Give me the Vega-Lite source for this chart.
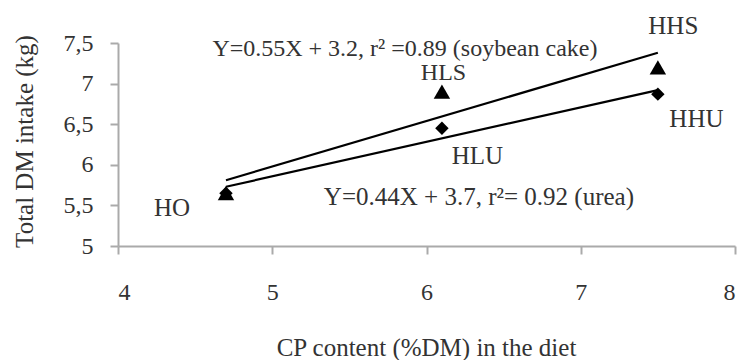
{
  "$schema": "https://vega.github.io/schema/vega-lite/v6.json",
  "autosize": "none",
  "padding": {"left": 118, "top": 43, "right": 11, "bottom": 114},
  "width": 617,
  "height": 203,
  "background": "white",
  "config": {
    "view": {"stroke": null},
    "font": "Liberation Serif"
  },
  "datasets": {
    "points": [
      {"diet": "HO", "source": "soybean cake", "cp": 4.7, "dmi": 5.65},
      {"diet": "HO", "source": "urea", "cp": 4.7, "dmi": 5.65},
      {"diet": "HLS", "source": "soybean cake", "cp": 6.1, "dmi": 6.9},
      {"diet": "HLU", "source": "urea", "cp": 6.1, "dmi": 6.45},
      {"diet": "HHS", "source": "soybean cake", "cp": 7.5, "dmi": 7.2},
      {"diet": "HHU", "source": "urea", "cp": 7.5, "dmi": 6.87}
    ],
    "fits": [
      {"source": "soybean cake", "cp": 4.7, "fit": 5.81},
      {"source": "soybean cake", "cp": 7.5, "fit": 7.38},
      {"source": "urea", "cp": 4.7, "fit": 5.73},
      {"source": "urea", "cp": 7.5, "fit": 6.92}
    ],
    "labels": [
      {"text": "HO", "lx": 4.35, "ly": 5.47, "size": 25},
      {"text": "HLS", "lx": 6.11, "ly": 7.13, "size": 24},
      {"text": "HLU", "lx": 6.33, "ly": 6.11, "size": 25},
      {"text": "HHS", "lx": 7.6, "ly": 7.71, "size": 25},
      {"text": "HHU", "lx": 7.75, "ly": 6.56, "size": 25},
      {"text": "Y=0.55X + 3.2, r² =0.89 (soybean cake)", "lx": 5.86, "ly": 7.43, "size": 24},
      {"text": "Y=0.44X + 3.7, r²= 0.92 (urea)", "lx": 6.34, "ly": 5.6, "size": 25}
    ]
  },
  "layer": [
    {
      "data": {"name": "fits"},
      "mark": {"type": "line", "color": "black", "strokeWidth": 2.2},
      "encoding": {
        "x": {"field": "cp", "type": "quantitative"},
        "y": {"field": "fit", "type": "quantitative"},
        "detail": {"field": "source"}
      }
    },
    {
      "data": {"name": "points"},
      "mark": {"type": "point", "filled": true, "color": "black", "opacity": 1},
      "encoding": {
        "x": {
          "field": "cp", "type": "quantitative",
          "scale": {"domain": [4, 8], "nice": false, "zero": false},
          "axis": {
            "values": [4, 5, 6, 7, 8],
            "format": "d",
            "title": "CP content (%DM) in the diet",
            "grid": false,
            "domainColor": "#aaaaaa", "domainWidth": 2,
            "tickColor": "#aaaaaa", "tickWidth": 2, "tickSize": 8,
            "labelFontSize": 24, "labelColor": "#333333", "labelPadding": 26,
            "labelFont": "Liberation Serif",
            "titleFont": "Liberation Serif", "titleFontSize": 25, "titleFontWeight": "normal",
            "titleColor": "#333333", "titleBaseline": "middle", "titleY": 101, "titleX": 308
          }
        },
        "y": {
          "field": "dmi", "type": "quantitative",
          "scale": {"domain": [5, 7.5], "nice": false, "zero": false},
          "axis": {
            "values": [5, 5.5, 6, 6.5, 7, 7.5],
            "labelExpr": "replace(format(datum.value, '~g'), '.', ',')",
            "title": "Total DM intake (kg)",
            "grid": false,
            "domainColor": "#aaaaaa", "domainWidth": 2,
            "tickColor": "#aaaaaa", "tickWidth": 2, "tickSize": 8,
            "labelFontSize": 24, "labelColor": "#333333", "labelPadding": 17,
            "labelFont": "Liberation Serif",
            "titleFont": "Liberation Serif", "titleFontSize": 25, "titleFontWeight": "normal",
            "titleColor": "#333333", "titleAngle": -90, "titleBaseline": "middle",
            "titleAlign": "center", "titleX": -94, "titleY": 98
          }
        },
        "shape": {
          "field": "source", "type": "nominal",
          "scale": {"domain": ["soybean cake", "urea"], "range": ["triangle-up", "diamond"]},
          "legend": null
        },
        "size": {
          "field": "source", "type": "nominal",
          "scale": {"domain": ["soybean cake", "urea"], "range": [270, 180]},
          "legend": null
        }
      }
    },
    {
      "data": {"name": "labels"},
      "mark": {"type": "text", "font": "Liberation Serif", "color": "#333333", "align": "center", "baseline": "middle"},
      "encoding": {
        "x": {"field": "lx", "type": "quantitative"},
        "y": {"field": "ly", "type": "quantitative"},
        "text": {"field": "text"},
        "size": {"field": "size", "type": "quantitative", "scale": null, "legend": null}
      }
    }
  ]
}
